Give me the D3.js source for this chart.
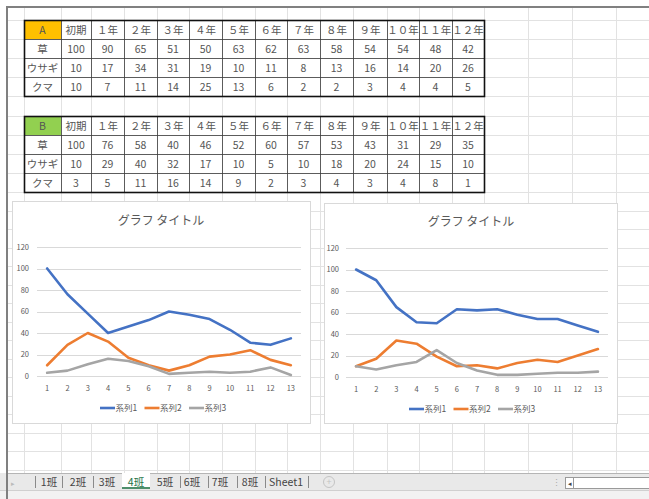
<!DOCTYPE html>
<html>
<head>
<meta charset="utf-8">
<script src="https://cdn.jsdelivr.net/npm/d3@7"></script>
<style>
  body { margin: 0; background: #fff; }
  svg { display: block; }
  text { font-family: "Noto Sans CJK JP", "Noto Sans", sans-serif; }
</style>
</head>
<body>
<div id="sheet"></div>
<script>
// table headers / labels
const colHeads = ["初期", "１年", "２年", "３年", "４年", "５年", "６年", "７年", "８年", "９年", "１０年", "１１年", "１２年"]
const rowHeads = ["草", "ウサギ", "クマ"]

// table A
const aGrass  = [100, 90, 65, 51, 50, 63, 62, 63, 58, 54, 54, 48, 42]
const aRabbit = [10, 17, 34, 31, 19, 10, 11, 8, 13, 16, 14, 20, 26]
const aBear   = [10, 7, 11, 14, 25, 13, 6, 2, 2, 3, 4, 4, 5]

// table B
const bGrass  = [100, 76, 58, 40, 46, 52, 60, 57, 53, 43, 31, 29, 35]
const bRabbit = [10, 29, 40, 32, 17, 10, 5, 10, 18, 20, 24, 15, 10]
const bBear   = [3, 5, 11, 16, 14, 9, 2, 3, 4, 3, 4, 8, 1]

// chart labels
const xLabels = ["1", "2", "3", "4", "5", "6", "7", "8", "9", "10", "11", "12", "13"]
const yTicks = [0, 20, 40, 60, 80, 100, 120]
const seriesNames = ["系列1", "系列2", "系列3"]
const seriesColors = ["#4472c4", "#ed7d31", "#a5a5a5"]
const chartTitle = "グラフ タイトル"
const tabNames = ["1班", "2班", "3班", "4班", "5班", "6班", "7班", "8班", "Sheet1"]
const activeTab = "4班"

const W = 649, H = 499

const svg = d3.select("#sheet")
  .append("svg")
  .attr("width", W)
  .attr("height", H)

// ---- spreadsheet grid ----
const colLines = [24, 61, 91, 124, 157, 189, 222, 255, 287, 320, 353, 387, 419, 452, 484, 528, 572, 616]
const rowLines = d3.range(0, 10).map(k => 20 + k * 19.1)
  .concat(d3.range(1, 16).map(k => 192 + k * 18.53))

const grid = svg.append("g")
colLines.forEach(x => {
  grid.append("line")
    .attr("x1", x + 0.5).attr("x2", x + 0.5)
    .attr("y1", 8).attr("y2", 473)
    .attr("stroke", "#e2e2e2")
})
rowLines.forEach(y => {
  grid.append("line")
    .attr("x1", 8).attr("x2", W)
    .attr("y1", Math.round(y) + 0.5).attr("y2", Math.round(y) + 0.5)
    .attr("stroke", "#e2e2e2")
})

// ---- tables ----
function drawTable(top, label, labelColor, grass, rabbit, bear) {
  const g = svg.append("g")
  const tcols = colLines.slice(0, 15)
  const trows = rowLines.slice(top, top + 5).map(Math.round)
  const rows = [colHeads, grass, rabbit, bear]
  const heads = [label].concat(rowHeads)

  // label cell background
  g.append("rect")
    .attr("x", tcols[0]).attr("y", trows[0])
    .attr("width", tcols[1] - tcols[0]).attr("height", trows[1] - trows[0])
    .attr("fill", labelColor)

  // inner lines
  tcols.slice(1, -1).forEach(x => {
    g.append("line").attr("x1", x + 0.5).attr("x2", x + 0.5)
      .attr("y1", trows[0]).attr("y2", trows[4])
      .attr("stroke", "#3a3a3a").attr("stroke-width", 0.8)
  })
  trows.slice(1, -1).forEach(y => {
    g.append("line").attr("x1", tcols[0]).attr("x2", tcols[14])
      .attr("y1", y + 0.5).attr("y2", y + 0.5)
      .attr("stroke", "#3a3a3a").attr("stroke-width", 0.8)
  })
  // outer border
  g.append("rect")
    .attr("x", tcols[0] + 0.5).attr("y", trows[0] + 0.5)
    .attr("width", tcols[14] - tcols[0]).attr("height", trows[4] - trows[0])
    .attr("fill", "none").attr("stroke", "#111").attr("stroke-width", 1.6)

  for (let r = 0; r < 4; ++r) {
    const cy = (trows[r] + trows[r + 1]) / 2 + 4
    g.append("text")
      .attr("x", (tcols[0] + tcols[1]) / 2).attr("y", cy)
      .attr("text-anchor", "middle")
      .style("font-size", "10.5px").style("fill", "#555")
      .text(heads[r])
    rows[r].forEach((v, c) => {
      g.append("text")
        .attr("x", (tcols[c + 1] + tcols[c + 2]) / 2).attr("y", cy)
        .attr("text-anchor", "middle")
        .style("font-size", "10.5px").style("fill", "#555")
        .text(v)
    })
  }
}

drawTable(0, "A", "#ffc000", aGrass, aRabbit, aBear)
drawTable(5, "B", "#92d050", bGrass, bRabbit, bBear)

// ---- charts ----
function drawChart(cfg, series) {
  const g = svg.append("g")

  g.append("rect")
    .attr("x", cfg.x0 + 0.5).attr("y", cfg.y0 + 0.5)
    .attr("width", cfg.x1 - cfg.x0).attr("height", cfg.y1 - cfg.y0)
    .attr("fill", "#fff").attr("stroke", "#d9d9d9")

  const x = d3.scalePoint().domain(xLabels).range([cfg.px0, cfg.px1]).padding(0.5)
  const y = d3.scaleLinear().domain([0, 120]).range([cfg.py0, cfg.py1])

  // gridlines + y labels
  yTicks.forEach(t => {
    g.append("line")
      .attr("x1", cfg.px0).attr("x2", cfg.px1)
      .attr("y1", Math.round(y(t)) + 0.5).attr("y2", Math.round(y(t)) + 0.5)
      .attr("stroke", "#d9d9d9")
    g.append("text")
      .attr("x", cfg.lx).attr("y", y(t) + 2.5)
      .attr("text-anchor", "end")
      .style("font-size", "7.5px").style("fill", "#595959")
      .text(t)
  })

  xLabels.forEach(l => {
    g.append("text")
      .attr("x", x(l)).attr("y", cfg.xly)
      .attr("text-anchor", "middle")
      .style("font-size", "7.5px").style("fill", "#595959")
      .text(l)
  })

  const line = d3.line()
    .x((d, i) => x(xLabels[i]))
    .y(d => y(d))

  series.forEach((s, i) => {
    g.append("path")
      .datum(s)
      .attr("d", line)
      .attr("fill", "none")
      .attr("stroke", seriesColors[i])
      .attr("stroke-width", 2.6)
      .attr("stroke-linejoin", "round")
      .attr("stroke-linecap", "round")
  })

  // title
  g.append("text")
    .attr("x", cfg.tx).attr("y", cfg.ty)
    .attr("text-anchor", "middle")
    .style("font-size", "12px").style("fill", "#595959")
    .text(chartTitle)

  // legend
  seriesNames.forEach((n, i) => {
    const lx = cfg.legX + i * 44.5
    g.append("line")
      .attr("x1", lx).attr("x2", lx + 15)
      .attr("y1", cfg.legY).attr("y2", cfg.legY)
      .attr("stroke", seriesColors[i]).attr("stroke-width", 2.6)
    g.append("text")
      .attr("x", lx + 15.5).attr("y", cfg.legY + 3)
      .style("font-size", "8.5px").style("fill", "#595959")
      .text(n)
  })
}

drawChart({x0: 12, y0: 201, x1: 310, y1: 423, px0: 37, px1: 301, py0: 376, py1: 247,
  lx: 29, xly: 391, tx: 161, ty: 225, legX: 100, legY: 408}, [bGrass, bRabbit, bBear])
drawChart({x0: 324, y0: 203, x1: 617, y1: 423, px0: 346, px1: 608, py0: 377, py1: 248,
  lx: 339, xly: 392, tx: 471, ty: 226, legX: 409, legY: 409}, [aGrass, aRabbit, aBear])

// ---- sheet tabs bar ----
const bar = svg.append("g")
bar.append("rect").attr("x", 0).attr("y", 473).attr("width", W).attr("height", 17).attr("fill", "#e9e9e9")
bar.append("line").attr("x1", 7).attr("x2", W).attr("y1", 473.5).attr("y2", 473.5).attr("stroke", "#b5b5b5")
bar.append("rect").attr("x", 0).attr("y", 490).attr("width", W).attr("height", 9).attr("fill", "#f2f2f2")
bar.append("line").attr("x1", 0).attr("x2", W).attr("y1", 490.5).attr("y2", 490.5).attr("stroke", "#d0d0d0")

bar.append("text").attr("x", 13).attr("y", 486).attr("text-anchor", "middle")
  .style("font-size", "7px").style("fill", "#bbb").text("▸")

const tabX = [49, 78, 107, 136, 165, 192, 220, 250, 286]
const sepX = [35, 62, 93, 180, 208, 237, 265, 308]
sepX.forEach(x => {
  bar.append("line").attr("x1", x + 0.5).attr("x2", x + 0.5).attr("y1", 476).attr("y2", 488)
    .attr("stroke", "#8a8a8a")
})
tabNames.forEach((t, i) => {
  if (t === activeTab) {
    bar.append("rect").attr("x", 122).attr("y", 473).attr("width", 28).attr("height", 16).attr("fill", "#fff")
    bar.append("line").attr("x1", 122).attr("x2", 150).attr("y1", 488).attr("y2", 488)
      .attr("stroke", "#217346").attr("stroke-width", 1.6)
  }
  bar.append("text")
    .attr("x", tabX[i]).attr("y", 486)
    .attr("text-anchor", "middle")
    .style("font-size", "10.5px")
    .style("fill", t === activeTab ? "#217346" : "#444")
    .text(t)
})

// add-sheet button
bar.append("circle").attr("cx", 329).attr("cy", 482).attr("r", 5.5)
  .attr("fill", "none").attr("stroke", "#c4c4c4")
bar.append("text").attr("x", 329).attr("y", 485).attr("text-anchor", "middle")
  .style("font-size", "9px").style("fill", "#c4c4c4").text("+")

// scroll area
bar.append("text").attr("x", 556).attr("y", 486).attr("text-anchor", "middle")
  .style("font-size", "9px").style("fill", "#aaa").text("⋮")
bar.append("rect").attr("x", 565.5).attr("y", 477.5).attr("width", 90).attr("height", 11)
  .attr("fill", "#fff").attr("stroke", "#9a9a9a")
bar.append("line").attr("x1", 573.5).attr("x2", 573.5).attr("y1", 478).attr("y2", 488).attr("stroke", "#9a9a9a")
bar.append("text").attr("x", 569.5).attr("y", 486).attr("text-anchor", "middle")
  .style("font-size", "7px").style("fill", "#444").text("◂")

// window borders
svg.append("line").attr("x1", 6).attr("x2", W).attr("y1", 7).attr("y2", 7)
  .attr("stroke", "#808080").attr("stroke-width", 2)
svg.append("line").attr("x1", 7).attr("x2", 7).attr("y1", 6).attr("y2", H)
  .attr("stroke", "#808080").attr("stroke-width", 2)
</script>
</body>
</html>
